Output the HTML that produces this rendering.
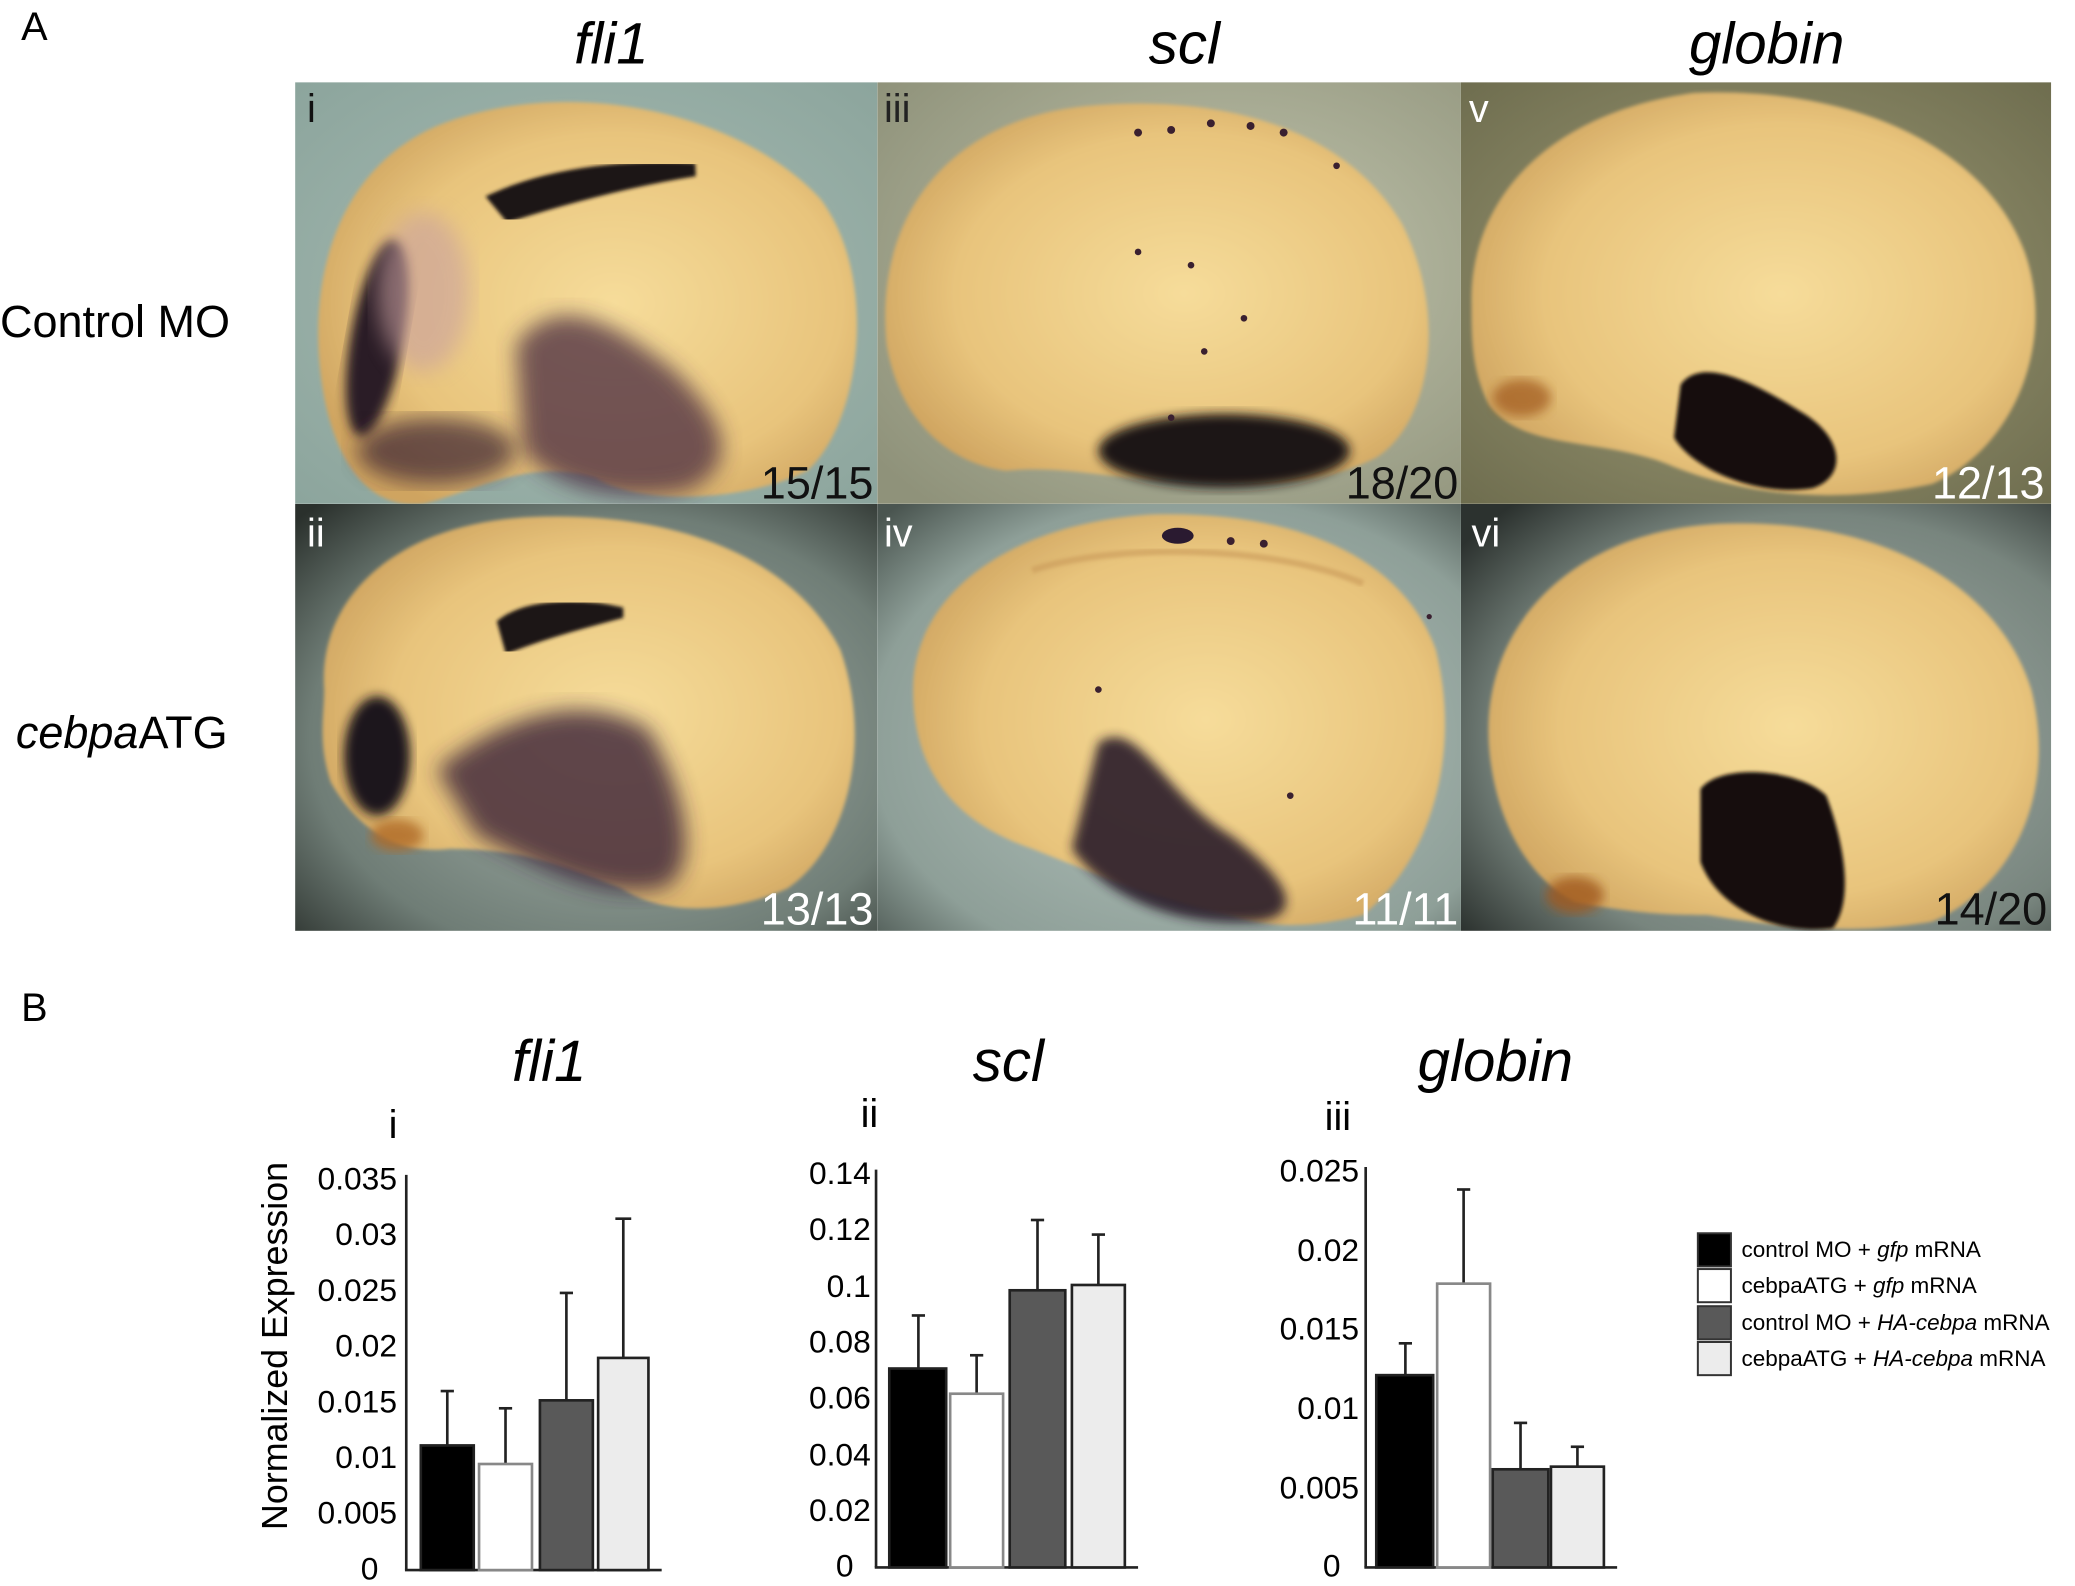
<!DOCTYPE html>
<html><head><meta charset="utf-8"><style>
html,body{margin:0;padding:0;background:#fff;}
svg{display:block;}
text{font-family:"Liberation Sans",sans-serif;}
</style></head><body>
<svg width="2075" height="1586" viewBox="0 0 1568 1196" preserveAspectRatio="none" xmlns="http://www.w3.org/2000/svg">
<defs>
<filter id="b8"><feGaussianBlur stdDeviation="8"/></filter>
<filter id="b4"><feGaussianBlur stdDeviation="4"/></filter>
<filter id="b2"><feGaussianBlur stdDeviation="1.5"/></filter>
<radialGradient id="emb" cx="0.55" cy="0.5" r="0.6"><stop offset="0" stop-color="#f6dc9a"/><stop offset="0.7" stop-color="#e8c47c"/><stop offset="1" stop-color="#cfa460"/></radialGradient>
<radialGradient id="vig1" cx="0.5" cy="0.5" r="0.75"><stop offset="0" stop-color="#a9bdb4"/><stop offset="1" stop-color="#8aa39b"/></radialGradient>
<radialGradient id="vig3" cx="0.6" cy="0.45" r="0.75"><stop offset="0" stop-color="#c3c7b0"/><stop offset="1" stop-color="#8f927a"/></radialGradient>
<radialGradient id="vig5" cx="0.5" cy="0.5" r="0.75"><stop offset="0" stop-color="#a29f7a"/><stop offset="1" stop-color="#6b6a4c"/></radialGradient>
<radialGradient id="vig2" cx="0.55" cy="0.55" r="0.75"><stop offset="0" stop-color="#a9b6ae"/><stop offset="0.7" stop-color="#6f7d76"/><stop offset="1" stop-color="#2a302c"/></radialGradient>
<radialGradient id="vig4" cx="0.55" cy="0.55" r="0.75"><stop offset="0" stop-color="#b7c6c0"/><stop offset="0.75" stop-color="#8e9f98"/><stop offset="1" stop-color="#4a5550"/></radialGradient>
<radialGradient id="vig6" cx="0.6" cy="0.55" r="0.75"><stop offset="0" stop-color="#a6b2ac"/><stop offset="0.7" stop-color="#78857e"/><stop offset="1" stop-color="#2c322f"/></radialGradient>
<clipPath id="c1"><rect x="223" y="62" width="440" height="318"/></clipPath>
<clipPath id="c3"><rect x="663" y="62" width="441" height="318"/></clipPath>
<clipPath id="c5"><rect x="1104" y="62" width="446" height="318"/></clipPath>
<clipPath id="c2"><rect x="223" y="380" width="440" height="322"/></clipPath>
<clipPath id="c4"><rect x="663" y="380" width="441" height="322"/></clipPath>
<clipPath id="c6"><rect x="1104" y="380" width="446" height="322"/></clipPath>
</defs>

<!-- Panel A -->
<text x="16" y="30" font-size="30">A</text>
<text x="462" y="48" font-size="44" font-style="italic" text-anchor="middle">fli1</text>
<text x="895" y="48" font-size="44" font-style="italic" text-anchor="middle">scl</text>
<text x="1335" y="48" font-size="44" font-style="italic" text-anchor="middle">globin</text>
<text x="0" y="254" font-size="34">Control MO</text>
<text x="12" y="564" font-size="34"><tspan font-style="italic">cebpa</tspan>ATG</text>

<!-- p1 -->
<g clip-path="url(#c1)">
<rect x="223" y="62" width="440" height="318" fill="url(#vig1)"/>
<path d="M245 300 C230 220 250 130 330 95 C430 55 560 85 620 150 C665 210 650 320 610 355 C560 380 480 380 450 360 C400 345 360 370 320 380 C280 385 255 350 245 300Z" fill="url(#emb)" filter="url(#b2)"/>
<path d="M375 150 C420 130 480 125 525 128 C480 135 430 148 385 162Z" fill="#1e1418" stroke="#1e1418" stroke-width="10" filter="url(#b2)"/>
<ellipse cx="285" cy="255" rx="20" ry="75" fill="#2a1a28" filter="url(#b4)" transform="rotate(10 285 255)"/>
<ellipse cx="320" cy="220" rx="35" ry="60" fill="#c9a0a0" opacity="0.6" filter="url(#b8)"/>
<path d="M390 260 C420 220 460 240 510 280 C550 320 560 350 520 370 C470 380 420 370 395 340Z" fill="#4a2a40" opacity="0.75" filter="url(#b8)"/>
<ellipse cx="330" cy="340" rx="60" ry="25" fill="#3a2430" opacity="0.7" filter="url(#b8)"/>
</g>
<text x="660" y="376" font-size="34" text-anchor="end" fill="#111">15/15</text>
<text x="232" y="92" font-size="30" fill="#111">i</text>

<!-- p3 -->
<g clip-path="url(#c3)">
<rect x="663" y="62" width="441" height="318" fill="url(#vig3)"/>
<path d="M670 260 C660 160 720 90 820 80 C930 70 1020 100 1060 170 C1095 240 1080 320 1040 345 C990 370 940 365 890 360 C850 365 810 350 760 355 C720 350 680 320 670 260Z" fill="url(#emb)" filter="url(#b2)"/>
<ellipse cx="925" cy="340" rx="95" ry="28" fill="#1e1618" filter="url(#b4)"/>
<g fill="#3a2030"><circle cx="860" cy="100" r="3"/><circle cx="885" cy="98" r="3"/><circle cx="915" cy="93" r="3"/><circle cx="945" cy="95" r="3"/><circle cx="970" cy="100" r="3"/><circle cx="1010" cy="125" r="2.5"/><circle cx="860" cy="190" r="2.5"/><circle cx="900" cy="200" r="2.5"/><circle cx="910" cy="265" r="2.5"/><circle cx="940" cy="240" r="2.5"/><circle cx="885" cy="315" r="2.5"/></g>
</g>
<text x="1102" y="376" font-size="34" text-anchor="end" fill="#111">18/20</text>
<text x="668" y="92" font-size="30" fill="#222">iii</text>

<!-- p5 -->
<g clip-path="url(#c5)">
<rect x="1104" y="62" width="446" height="318" fill="url(#vig5)"/>
<path d="M1112 230 C1110 150 1170 85 1280 70 C1400 65 1500 110 1530 190 C1555 260 1520 340 1460 365 C1390 380 1320 375 1260 350 C1210 330 1150 340 1125 305 C1112 280 1112 255 1112 230Z" fill="url(#emb)" filter="url(#b2)"/>
<path d="M1270 290 C1285 270 1320 285 1360 310 C1395 330 1395 360 1370 368 C1330 375 1280 355 1265 330Z" fill="#120e0c" filter="url(#b2)"/>
<ellipse cx="1150" cy="300" rx="22" ry="14" fill="#a0581e" opacity="0.7" filter="url(#b4)"/>
</g>
<text x="1545" y="376" font-size="34" text-anchor="end" fill="#fff">12/13</text>
<text x="1110" y="92" font-size="30" fill="#fff">v</text>

<!-- p2 -->
<g clip-path="url(#c2)">
<rect x="223" y="380" width="440" height="322" fill="url(#vig2)"/>
<path d="M245 520 C240 450 300 395 400 390 C510 385 600 420 635 490 C660 560 640 640 595 670 C550 690 500 690 470 670 C420 650 390 640 340 640 C300 645 270 625 250 590 C240 560 245 540 245 520Z" fill="url(#emb)" filter="url(#b2)"/>
<path d="M380 470 C400 455 440 455 470 462 C440 470 410 478 385 488Z" fill="#1e1418" stroke="#1e1418" stroke-width="8" filter="url(#b2)"/>
<ellipse cx="285" cy="570" rx="25" ry="45" fill="#1e141c" filter="url(#b4)"/>
<path d="M330 580 C380 540 440 520 490 550 C520 600 530 660 500 670 C450 680 400 650 360 630Z" fill="#3a2438" opacity="0.8" filter="url(#b8)"/>
<ellipse cx="300" cy="630" rx="20" ry="12" fill="#b06a28" opacity="0.8" filter="url(#b4)"/>
</g>
<text x="660" y="697" font-size="34" text-anchor="end" fill="#fff">13/13</text>
<text x="232" y="412" font-size="30" fill="#fff">ii</text>

<!-- p4 -->
<g clip-path="url(#c4)">
<rect x="663" y="380" width="441" height="322" fill="url(#vig4)"/>
<path d="M690 520 C690 450 760 395 870 388 C980 385 1060 420 1085 490 C1105 570 1080 650 1030 690 C990 700 960 700 930 690 C880 680 830 660 780 640 C720 620 690 580 690 520Z" fill="url(#emb)" filter="url(#b2)"/>
<path d="M780 430 C840 410 960 410 1030 440" stroke="#c99a5a" stroke-width="5" fill="none" opacity="0.6" filter="url(#b2)"/>
<path d="M830 560 C860 540 880 600 930 630 C970 660 990 690 950 695 C880 700 830 670 810 640Z" fill="#2a1a2c" opacity="0.9" filter="url(#b4)"/>
<ellipse cx="890" cy="404" rx="12" ry="6" fill="#2a1a30"/>
<g fill="#3a2030"><circle cx="930" cy="408" r="3"/><circle cx="955" cy="410" r="3"/><circle cx="830" cy="520" r="2.5"/><circle cx="975" cy="600" r="2.5"/><circle cx="1080" cy="465" r="2"/></g>
</g>
<text x="1102" y="697" font-size="34" text-anchor="end" fill="#fff">11/11</text>
<text x="668" y="412" font-size="30" fill="#fff">iv</text>

<!-- p6 -->
<g clip-path="url(#c6)">
<rect x="1104" y="380" width="446" height="322" fill="url(#vig6)"/>
<path d="M1125 560 C1120 470 1190 400 1300 395 C1420 390 1510 440 1535 520 C1555 600 1520 670 1460 695 C1400 705 1350 700 1290 690 C1270 690 1240 690 1190 680 C1150 660 1128 610 1125 560Z" fill="url(#emb)" filter="url(#b2)"/>
<path d="M1285 595 C1300 575 1360 580 1380 600 C1395 640 1400 680 1385 700 C1350 705 1300 690 1285 650Z" fill="#120c0c" filter="url(#b2)"/>
<ellipse cx="1190" cy="675" rx="22" ry="14" fill="#a0581e" opacity="0.8" filter="url(#b4)"/>
</g>
<text x="1547" y="697" font-size="34" text-anchor="end" fill="#111">14/20</text>
<text x="1112" y="412" font-size="30" fill="#fff">vi</text>

<!-- Panel B -->
<text x="16" y="770" font-size="30">B</text>
<text x="415" y="815" font-size="44" font-style="italic" text-anchor="middle">fli1</text>
<text x="762" y="815" font-size="44" font-style="italic" text-anchor="middle">scl</text>
<text x="1130" y="815" font-size="44" font-style="italic" text-anchor="middle">globin</text>
<text x="297" y="858" font-size="30" text-anchor="middle">i</text>
<text x="657" y="850" font-size="30" text-anchor="middle">ii</text>
<text x="1011" y="852" font-size="30" text-anchor="middle">iii</text>
<text transform="translate(217 1015) rotate(-90)" font-size="27" text-anchor="middle">Normalized Expression</text>

<g stroke="#222" stroke-width="2" fill="none">
<line x1="307" y1="886" x2="307" y2="1184"/><line x1="306" y1="1184" x2="500" y2="1184"/>
<line x1="662" y1="882" x2="662" y2="1182"/><line x1="661" y1="1182" x2="860" y2="1182"/>
<line x1="1032" y1="880" x2="1032" y2="1182"/><line x1="1031" y1="1182" x2="1222" y2="1182"/>
</g>
<g font-size="24" text-anchor="end">
<text x="300" y="897">0.035</text><text x="300" y="939">0.03</text><text x="300" y="981">0.025</text><text x="300" y="1023">0.02</text><text x="300" y="1065">0.015</text><text x="300" y="1107">0.01</text><text x="300" y="1149">0.005</text><text x="286" y="1191">0</text>
<text x="658" y="893">0.14</text><text x="658" y="935">0.12</text><text x="658" y="978">0.1</text><text x="658" y="1020">0.08</text><text x="658" y="1062">0.06</text><text x="658" y="1105">0.04</text><text x="658" y="1147">0.02</text><text x="645" y="1189">0</text>
<text x="1027" y="891">0.025</text><text x="1027" y="951">0.02</text><text x="1027" y="1010">0.015</text><text x="1027" y="1070">0.01</text><text x="1027" y="1130">0.005</text><text x="1013" y="1189">0</text>
</g>

<g stroke="#222" stroke-width="2">
<line x1="338" y1="1090" x2="338" y2="1049"/><line x1="333" y1="1049" x2="343" y2="1049"/>
<line x1="382" y1="1104" x2="382" y2="1062"/><line x1="377" y1="1062" x2="387" y2="1062"/>
<line x1="428" y1="1056" x2="428" y2="975"/><line x1="423" y1="975" x2="433" y2="975"/>
<line x1="471" y1="1024" x2="471" y2="919"/><line x1="465" y1="919" x2="477" y2="919"/>
<rect x="318" y="1090" width="40" height="94" fill="#000"/>
<rect x="362" y="1104" width="40" height="80" fill="#fff" stroke="#888"/>
<rect x="408" y="1056" width="40" height="128" fill="#595959"/>
<rect x="452" y="1024" width="38" height="160" fill="#ececec"/>
<line x1="694" y1="1032" x2="694" y2="992"/><line x1="689" y1="992" x2="699" y2="992"/>
<line x1="738" y1="1051" x2="738" y2="1022"/><line x1="733" y1="1022" x2="743" y2="1022"/>
<line x1="784" y1="973" x2="784" y2="920"/><line x1="779" y1="920" x2="789" y2="920"/>
<line x1="830" y1="969" x2="830" y2="931"/><line x1="825" y1="931" x2="835" y2="931"/>
<rect x="672" y="1032" width="43" height="150" fill="#000"/>
<rect x="718" y="1051" width="40" height="131" fill="#fff" stroke="#888"/>
<rect x="763" y="973" width="42" height="209" fill="#595959"/>
<rect x="810" y="969" width="40" height="213" fill="#ececec"/>
<line x1="1062" y1="1037" x2="1062" y2="1013"/><line x1="1057" y1="1013" x2="1067" y2="1013"/>
<line x1="1106" y1="968" x2="1106" y2="897"/><line x1="1101" y1="897" x2="1111" y2="897"/>
<line x1="1149" y1="1108" x2="1149" y2="1073"/><line x1="1144" y1="1073" x2="1154" y2="1073"/>
<line x1="1192" y1="1106" x2="1192" y2="1091"/><line x1="1187" y1="1091" x2="1197" y2="1091"/>
<rect x="1040" y="1037" width="43" height="145" fill="#000"/>
<rect x="1086" y="968" width="40" height="214" fill="#fff" stroke="#888"/>
<rect x="1128" y="1108" width="42" height="74" fill="#595959"/>
<rect x="1172" y="1106" width="40" height="76" fill="#ececec"/>
</g>

<g stroke="#333" stroke-width="1.5">
<rect x="1283" y="930" width="25" height="25" fill="#000"/>
<rect x="1283" y="957" width="25" height="25" fill="#fff"/>
<rect x="1283" y="985" width="25" height="25" fill="#595959"/>
<rect x="1283" y="1012" width="25" height="25" fill="#ececec"/>
</g>
<g font-size="17">
<text x="1316" y="948">control MO + <tspan font-style="italic">gfp</tspan> mRNA</text>
<text x="1316" y="975">cebpaATG + <tspan font-style="italic">gfp</tspan> mRNA</text>
<text x="1316" y="1003">control MO + <tspan font-style="italic">HA-cebpa</tspan> mRNA</text>
<text x="1316" y="1030">cebpaATG + <tspan font-style="italic">HA-cebpa</tspan> mRNA</text>
</g>
</svg>
</body></html>
